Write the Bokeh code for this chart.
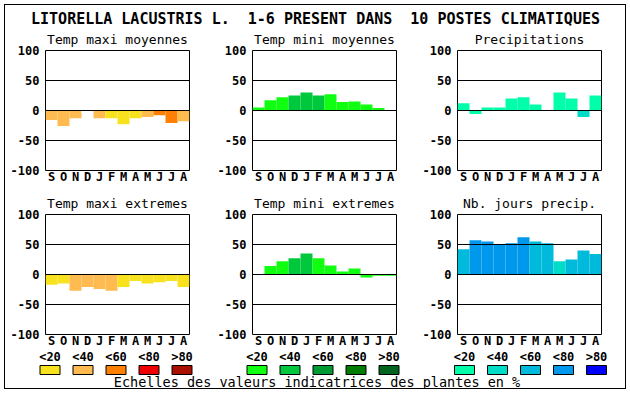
from bokeh.plotting import figure
from bokeh.models import Range1d, Span, FixedTicker, ColumnDataSource
from bokeh.layouts import column, row
from bokeh.embed import file_html
from bokeh.resources import INLINE
from bokeh.core.properties import value

# ---------------- data ----------------
main_title = "LITORELLA LACUSTRIS L. \u00a01-6 PRESENT DANS \u00a010 POSTES CLIMATIQUES"
footer = "Echelles des valeurs indicatrices des plantes en %"

months = ["Sep", "Oct", "Nov", "Dec", "Jan", "Feb", "Mar", "Apr", "May", "Jun", "Jul", "Aug"]
month_labels = ["S", "O", "N", "D", "J", "F", "M", "A", "M", "J", "J", "A"]
yticks = [-100, -50, 0, 50, 100]
scale_labels = ["<20", "<40", "<60", "<80", ">80"]

warm_colors = ["#F8E21E", "#FFBA50", "#FF8000", "#EE0000", "#AA1000"]
green_colors = ["#10FF10", "#00C83C", "#009A32", "#007C00", "#006420"]
blue_colors = ["#00FFAA", "#00DCC8", "#00BADC", "#0098EC", "#0000FF"]

tmax_moy_title = "Temp maxi moyennes"
tmax_moy = [-16, -26, -13, -4, -13, -13, -23, -13, -11, -8, -21, -18]
tmax_moy_cls = [1, 1, 1, None, 1, 0, 0, 0, 1, 2, 2, 1]

tmin_moy_title = "Temp mini moyennes"
tmin_moy = [5, 17, 22, 25, 30, 25, 27, 14, 15, 10, 4, 0]
tmin_moy_cls = [0, 0, 0, 1, 1, 1, 0, 0, 0, 0, 0, 0]

precip_title = "Precipitations"
precip = [12, -6, 5, 5, 20, 22, 10, 0, 30, 20, -11, 25]
precip_cls = [0, 0, 0, 0, 0, 0, 0, 0, 0, 0, 1, 0]

tmax_ext_title = "Temp maxi extremes"
tmax_ext = [-17, -15, -27, -21, -24, -27, -21, -11, -15, -13, -11, -21]
tmax_ext_cls = [0, 0, 1, 1, 1, 1, 0, 0, 0, 0, 0, 0]

tmin_ext_title = "Temp mini extremes"
tmin_ext = [0, 14, 22, 27, 35, 27, 15, 5, 10, -5, -2, -2]
tmin_ext_cls = [0, 0, 0, 1, 1, 0, 0, 0, 0, 0, 0, 0]

jours_title = "Nb. jours precip."
jours = [42, 57, 55, 50, 52, 62, 55, 52, 22, 25, 40, 34]
jours_cls = [2, 3, 3, 3, 3, 3, 2, 2, 1, 2, 2, 2]

# ---------------- style ----------------
FONT = "DejaVu Sans Mono"
FRAME_W, FRAME_H = 144, 120


def panel(title, vals, cls, colors, left, right, top, bottom):
    n = len(months)
    p = figure(x_range=Range1d(-0.5, n - 0.5), y_range=Range1d(-100, 100),
               frame_width=FRAME_W, frame_height=FRAME_H,
               min_border_left=left, min_border_right=right,
               min_border_top=top, min_border_bottom=bottom,
               output_backend="svg", toolbar_location=None, title=title)
    cols = [colors[c] if c is not None else "#FFFFFF" for c in cls]
    src = ColumnDataSource(dict(idx=list(range(n)), month=months, val=vals, color=cols))
    p.vbar(x="idx", top="val", bottom=0, width=1.0, fill_color="color",
           line_color=None, source=src)
    for t in yticks:
        if abs(t) < 100:
            p.add_layout(Span(location=t, dimension="width", line_color="black",
                              line_width=1))
    p.xgrid.visible = False
    p.ygrid.visible = False
    p.outline_line_color = "black"
    p.outline_line_width = 1
    p.outline_line_alpha = 1
    p.background_fill_color = "white"
    p.border_fill_color = "white"

    p.title.align = "center"
    p.title.text_font = FONT
    p.title.text_font_size = "13px"
    p.title.text_font_style = "normal"
    p.title.text_color = "black"
    p.title.text_line_height = 1.0
    p.title.standoff = 7

    p.yaxis.ticker = FixedTicker(ticks=yticks)
    p.yaxis.major_label_overrides = {t: str(t) for t in yticks}
    p.xaxis.ticker = FixedTicker(ticks=list(range(n)))
    p.xaxis.major_label_overrides = {i: lab for i, lab in enumerate(month_labels)}
    for ax in (p.xaxis, p.yaxis):
        ax.axis_line_color = None
        ax.major_tick_out = 0
        ax.major_tick_in = 0
        ax.minor_tick_out = 0
        ax.minor_tick_in = 0
        ax.major_label_text_font = FONT
        ax.major_label_text_font_size = "12px"
        ax.major_label_text_font_style = "bold"
        ax.major_label_text_color = "black"
        ax.major_label_text_line_height = 1.0
    p.yaxis.major_label_standoff = 6
    p.xaxis.major_label_standoff = -1
    return p


# row 1 (page y 26..190, frame 50..170)
p1 = panel(tmax_moy_title, tmax_moy, tmax_moy_cls, warm_colors, 40, 5, 24, 20)
p2 = panel(tmin_moy_title, tmin_moy, tmin_moy_cls, green_colors, 58, 5, 24, 20)
p3 = panel(precip_title, precip, precip_cls, blue_colors, 56, 24, 24, 20)
# row 2 (page y 190..350, frame 214..334)
p4 = panel(tmax_ext_title, tmax_ext, tmax_ext_cls, warm_colors, 40, 5, 24, 16)
p5 = panel(tmin_ext_title, tmin_ext, tmin_ext_cls, green_colors, 58, 5, 24, 16)
p6 = panel(jours_title, jours, jours_cls, blue_colors, 56, 24, 24, 16)

# header (page y 5..26)
head = figure(width=620, height=21, x_range=Range1d(5, 625), y_range=Range1d(26, 5),
              x_axis_type=None, y_axis_type=None, min_border=0,
              output_backend="svg", toolbar_location=None)
head.outline_line_color = None
head.xgrid.visible = False
head.ygrid.visible = False
head.text(x=[315], y=[18], text=[main_title], text_font=value(FONT),
          text_font_size="15px", text_font_style="bold", text_color="black",
          text_align="center", text_baseline="middle")

# legend (page y 350..388)
leg = figure(width=620, height=38, x_range=Range1d(5, 625), y_range=Range1d(388, 350),
             x_axis_type=None, y_axis_type=None, min_border=0,
             output_backend="svg", toolbar_location=None)
leg.outline_line_color = None
leg.xgrid.visible = False
leg.ygrid.visible = False
group_starts = [49.5, 256.5, 464]
step = 33
for start, colors in zip(group_starts, [warm_colors, green_colors, blue_colors]):
    xs = [start + i * step for i in range(len(scale_labels))]
    leg.text(x=xs, y=[356] * len(xs), text=scale_labels, text_font=value(FONT),
             text_font_size="12px", text_font_style="bold", text_color="black",
             text_align="center", text_baseline="middle")
    leg.rect(x=xs, y=[369.5] * len(xs), width=20, height=9, fill_color=colors,
             line_color="black", line_width=1)
leg.text(x=[316.5], y=[381], text=[footer], text_font=value(FONT),
         text_font_size="13.5px", text_font_style="normal", text_color="black",
         text_align="center", text_baseline="middle")

root = column(head, row(p1, p2, p3), row(p4, p5, p6), leg,
              styles={"outline": "1px solid black", "margin-left": "5px",
                      "margin-top": "5px"})

open("out.html", "w").write(file_html(root, INLINE))
